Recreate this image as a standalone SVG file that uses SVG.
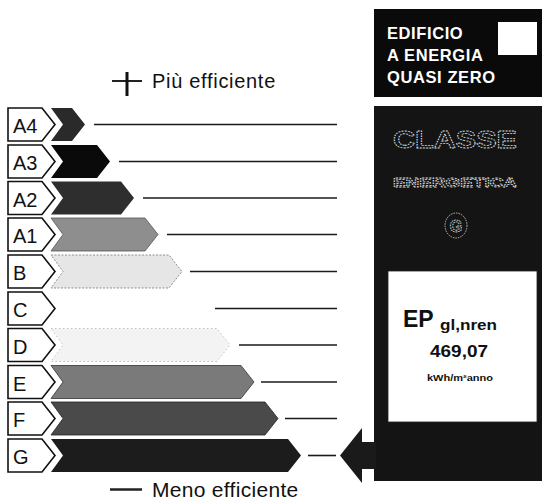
<svg xmlns="http://www.w3.org/2000/svg" width="542" height="502" viewBox="0 0 542 502">
  <style>
    .lbl { fill: #fff; stroke: #111; stroke-width: 1.6; stroke-linejoin: miter; }
    .lt { font-family: "Liberation Sans", Arial, sans-serif; font-size: 20px; fill: #111; }
    .ln { stroke: #1a1a1a; stroke-width: 1.6; fill: none; }
    .cap { font-family: "Liberation Sans", Arial, sans-serif; fill: #111; }
    .wt { font-family: "Liberation Sans", Arial, sans-serif; font-weight: bold; fill: #fff; font-size: 16.5px; }
    .hollow { font-family: "Liberation Sans", Arial, sans-serif; font-weight: bold; fill: none; stroke: #e0e0e0; stroke-width: 0.8; stroke-dasharray: 1.5 1; }
    .ep { font-family: "Liberation Sans", Arial, sans-serif; font-weight: bold; fill: #111; }
  </style>

  <!-- header -->
  <g id="piu-efficiente">
    <line x1="112" y1="81" x2="142" y2="81" stroke="#222" stroke-width="2"/>
    <line x1="127" y1="72" x2="127" y2="96" stroke="#111" stroke-width="3"/>
    <text class="cap" x="152" y="88" font-size="20" letter-spacing="0.7">Più efficiente</text>
  </g>

  <!-- classes -->
  <g id="class-A4">
    <polygon class="lbl" points="8,108 42,108 55,124.5 42,141 8,141"/>
    <text class="lt" x="13" y="133">A4</text>
    <polygon points="51,108 72,108 85,124.5 72,141 51,141 63,124.5" fill="#2a2a2a"/>
  </g>
  <g id="class-A3">
    <polygon class="lbl" points="8,145 42,145 55,161.5 42,178 8,178"/>
    <text class="lt" x="13" y="170">A3</text>
    <polygon points="51,145 97,145 110,161.5 97,178 51,178 63,161.5" fill="#0a0a0a"/>
  </g>
  <g id="class-A2">
    <polygon class="lbl" points="8,181.5 42,181.5 55,198 42,214.5 8,214.5"/>
    <text class="lt" x="13" y="206.5">A2</text>
    <polygon points="51,181.5 121,181.5 134,198 121,214.5 51,214.5 63,198" fill="#2e2e2e"/>
  </g>
  <g id="class-A1">
    <polygon class="lbl" points="8,218 42,218 55,234.5 42,251 8,251"/>
    <text class="lt" x="13" y="243">A1</text>
    <polygon points="51,218 145,218 158,234.5 145,251 51,251 63,234.5" fill="#8e8e8e" stroke="#555" stroke-width="0.8"/>
  </g>
  <g id="class-B">
    <polygon class="lbl" points="8,255 42,255 55,271.5 42,288 8,288"/>
    <text class="lt" x="13" y="280">B</text>
    <polygon points="51,255 169,255 182,271.5 169,288 51,288 63,271.5" fill="#e6e6e6" stroke="#777" stroke-width="0.8" stroke-dasharray="2 1.5"/>
  </g>
  <g id="class-C">
    <polygon class="lbl" points="8,292 42,292 55,308.5 42,325 8,325"/>
    <text class="lt" x="13" y="317">C</text>
  </g>
  <g id="class-D">
    <polygon class="lbl" points="8,328.5 42,328.5 55,345 42,361.5 8,361.5"/>
    <text class="lt" x="13" y="353.5">D</text>
    <polygon points="51,328.5 217,328.5 230,345 217,361.5 51,361.5 63,345" fill="#f3f3f3" stroke="#aaa" stroke-width="0.7" stroke-dasharray="1.5 2.5"/>
  </g>
  <g id="class-E">
    <polygon class="lbl" points="8,365.5 42,365.5 55,382 42,398.5 8,398.5"/>
    <text class="lt" x="13" y="390.5">E</text>
    <polygon points="51,365.5 241,365.5 254,382 241,398.5 51,398.5 63,382" fill="#7a7a7a" stroke="#333" stroke-width="0.8"/>
  </g>
  <g id="class-F">
    <polygon class="lbl" points="8,402 42,402 55,418.5 42,435 8,435"/>
    <text class="lt" x="13" y="427">F</text>
    <polygon points="51,402 265,402 278,418.5 265,435 51,435 63,418.5" fill="#4a4a4a" stroke="#222" stroke-width="0.8"/>
  </g>
  <g id="class-G">
    <polygon class="lbl" points="8,439 42,439 55,455.5 42,472 8,472"/>
    <text class="lt" x="13" y="464">G</text>
    <polygon points="51,439 288,439 301,455.5 288,472 51,472 63,455.5" fill="#1c1c1c"/>
  </g>

  <!-- connector lines -->
  <g id="connectors">
    <line class="ln" x1="94" y1="124.5" x2="337" y2="124.5"/>
    <line class="ln" x1="119" y1="161.5" x2="337" y2="161.5"/>
    <line class="ln" x1="143" y1="198" x2="337" y2="198"/>
    <line class="ln" x1="167" y1="234.5" x2="337" y2="234.5"/>
    <line class="ln" x1="190" y1="271.5" x2="337" y2="271.5"/>
    <line class="ln" x1="215" y1="308.5" x2="337" y2="308.5"/>
    <line class="ln" x1="239" y1="345" x2="337" y2="345"/>
    <line class="ln" x1="261" y1="382" x2="337" y2="382"/>
    <line class="ln" x1="285" y1="418.5" x2="337" y2="418.5"/>
    <line class="ln" x1="308" y1="455.5" x2="336" y2="455.5"/>
  </g>

  <!-- nZEB box -->
  <g id="nzeb">
    <rect x="374" y="9" width="168" height="88" fill="#0a0a0a"/>
    <rect x="498" y="22" width="39" height="33" fill="#fff"/>
    <text class="wt" x="387" y="39" letter-spacing="0.6">EDIFICIO</text>
    <text class="wt" x="387" y="61" letter-spacing="0.6">A ENERGIA</text>
    <text class="wt" x="387" y="83" letter-spacing="0.6">QUASI ZERO</text>
  </g>

  <!-- class panel -->
  <g id="classe-panel">
    <rect x="374" y="106" width="168" height="375" fill="#141414"/>
    <text class="hollow" x="455" y="148" font-size="24" text-anchor="middle" textLength="124" lengthAdjust="spacingAndGlyphs">CLASSE</text>
    <text class="hollow" x="455" y="187" font-size="13" text-anchor="middle" textLength="124" lengthAdjust="spacingAndGlyphs">ENERGETICA</text>
    <ellipse cx="456" cy="225.5" rx="11" ry="12.5" fill="none" stroke="#e0e0e0" stroke-width="0.8" stroke-dasharray="1.5 1"/>
    <text class="hollow" x="456" y="231.5" font-size="16" text-anchor="middle">G</text>
    <rect x="388" y="271" width="149" height="151" fill="#fff" stroke="#222" stroke-width="0.8"/>
    <text class="ep" x="403" y="327" font-size="23">EP</text>
    <text class="ep" x="440" y="330" font-size="15.5" textLength="57" lengthAdjust="spacingAndGlyphs">gl,nren</text>
    <text class="ep" x="430" y="357" font-size="17" textLength="58" lengthAdjust="spacingAndGlyphs">469,07</text>
    <text class="ep" x="427" y="381" font-size="8.5" font-weight="normal" textLength="66" lengthAdjust="spacingAndGlyphs">kWh/m²anno</text>
  </g>

  <!-- indicator arrow -->
  <g id="indicator">
    <polygon points="340,455.5 362,428 362,442 376,442 376,469 362,469 362,483" fill="#1a1a1a"/>
  </g>

  <g id="meno-efficiente">
    <line x1="110" y1="489.5" x2="142" y2="489.5" stroke="#222" stroke-width="2.5"/>
    <text class="cap" x="152" y="497" font-size="21" letter-spacing="0.3">Meno efficiente</text>
  </g>
</svg>
